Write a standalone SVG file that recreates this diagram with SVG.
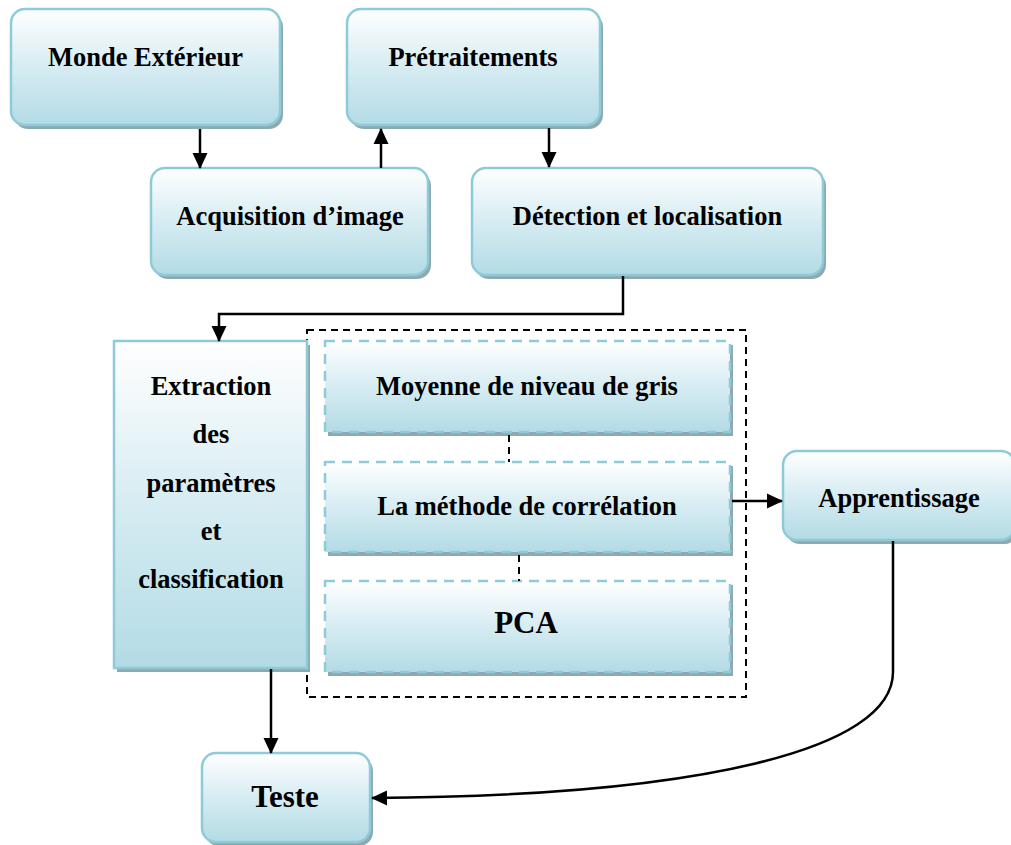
<svg xmlns="http://www.w3.org/2000/svg" width="1011" height="845" viewBox="0 0 1011 845">
  <defs>
    <linearGradient id="fillGrad" x1="0" y1="0" x2="0" y2="1">
      <stop offset="0" stop-color="#ffffff"/>
      <stop offset="0.5" stop-color="#d6ecf2"/>
      <stop offset="1" stop-color="#b3dbe5"/>
    </linearGradient>
    <marker id="arrow" markerWidth="16" markerHeight="16" refX="15" refY="8" orient="auto" markerUnits="userSpaceOnUse" viewBox="0 0 16 16">
      <path d="M0,0.5 L16,8 L0,15.5 z" fill="#000"/>
    </marker>
  </defs>
  <style>
    .shadow { fill: #8fa9b1; }
    .box { fill: url(#fillGrad); stroke: #8ecbd9; stroke-width: 2.5; }
    .dbox { fill: url(#fillGrad); stroke: #8ecbd9; stroke-width: 2.5; stroke-dasharray: 10 7; }
    .lbl { font-family: "Liberation Serif", "Times New Roman", serif; font-weight: bold; font-size: 26.5px; fill: #000; text-anchor: middle; }
    .big { font-size: 31px; }
    .conn { fill: none; stroke: #000; stroke-width: 2.5; }
    .dash { fill: none; stroke: #000; stroke-width: 2; stroke-dasharray: 7 5; }
  </style>

  <!-- Group frame around the three parameter methods -->
  <rect x="307" y="330" width="439" height="367" class="dash"/>

  <g id="monde">
    <rect x="14" y="13" width="269" height="116" rx="14" class="shadow"/>
    <rect x="11" y="9" width="269" height="116" rx="14" class="box"/>
    <text x="145.5" y="66" class="lbl">Monde Extérieur</text>
  </g>

  <g id="pretraitements">
    <rect x="350" y="13" width="253" height="116" rx="14" class="shadow"/>
    <rect x="347" y="9" width="253" height="116" rx="14" class="box"/>
    <text x="473" y="66" class="lbl">Prétraitements</text>
  </g>

  <g id="acquisition">
    <rect x="154" y="172" width="277" height="107" rx="14" class="shadow"/>
    <rect x="151" y="168" width="277" height="107" rx="14" class="box"/>
    <text x="290" y="225" class="lbl">Acquisition d’image</text>
  </g>

  <g id="detection">
    <rect x="475" y="172" width="351" height="107" rx="14" class="shadow"/>
    <rect x="472" y="168" width="351" height="107" rx="14" class="box"/>
    <text x="647.5" y="225" class="lbl">Détection et localisation</text>
  </g>

  <g id="extraction">
    <rect x="117" y="345" width="193" height="327" class="shadow"/>
    <rect x="114" y="341" width="193" height="327" class="box"/>
    <text x="211" y="395" class="lbl">Extraction</text>
    <text x="211" y="443" class="lbl">des</text>
    <text x="211" y="492" class="lbl">paramètres</text>
    <text x="211" y="540" class="lbl">et</text>
    <text x="211" y="588" class="lbl">classification</text>
  </g>

  <g id="moyenne">
    <rect x="328" y="345" width="405" height="91" class="shadow"/>
    <rect x="325" y="341" width="405" height="91" class="dbox"/>
    <text x="527" y="395" class="lbl">Moyenne de niveau de gris</text>
  </g>

  <g id="correlation">
    <rect x="328" y="466" width="405" height="90" class="shadow"/>
    <rect x="325" y="462" width="405" height="90" class="dbox"/>
    <text x="527" y="515" class="lbl">La méthode de corrélation</text>
  </g>

  <g id="pca">
    <rect x="328" y="585" width="405" height="91" class="shadow"/>
    <rect x="325" y="581" width="405" height="91" class="dbox"/>
    <text x="526" y="633" class="lbl big">PCA</text>
  </g>

  <g id="apprentissage">
    <rect x="786" y="455" width="232" height="89" rx="14" class="shadow"/>
    <rect x="783" y="451" width="232" height="89" rx="14" class="box"/>
    <text x="899" y="507" class="lbl">Apprentissage</text>
  </g>

  <g id="teste">
    <rect x="205" y="757" width="168" height="89" rx="14" class="shadow"/>
    <rect x="202" y="753" width="168" height="89" rx="14" class="box"/>
    <text x="285" y="807" class="lbl big">Teste</text>
  </g>

  <g id="connectors">
    <line x1="200" y1="129" x2="200" y2="168" class="conn" marker-end="url(#arrow)"/>
    <line x1="381" y1="168" x2="381" y2="129" class="conn" marker-end="url(#arrow)"/>
    <line x1="549" y1="128" x2="549" y2="167" class="conn" marker-end="url(#arrow)"/>
    <polyline points="623,276 623,314 219,314 219,341" class="conn" marker-end="url(#arrow)"/>
    <line x1="509" y1="435" x2="509" y2="462" class="dash"/>
    <line x1="519" y1="555" x2="519" y2="581" class="dash"/>
    <line x1="732" y1="501" x2="782" y2="501" class="conn" marker-end="url(#arrow)"/>
    <line x1="271" y1="669" x2="271" y2="753" class="conn" marker-end="url(#arrow)"/>
    <path d="M893,541 L893,672 C893,750 700,796 372,798" class="conn" marker-end="url(#arrow)"/>
  </g>
</svg>
